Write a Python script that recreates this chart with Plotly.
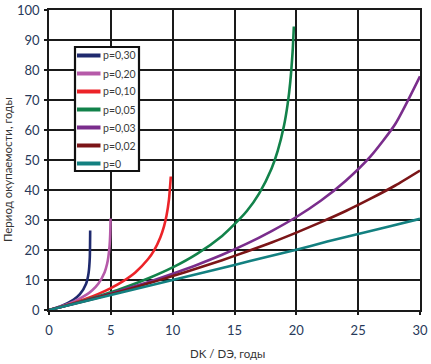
import plotly.graph_objects as go

# Values
x_p030 = [0, 0.5, 1, 1.5, 2, 2.5, 3, 3.2, 3.3, 3.33]
y_p030 = [0, 0.62, 1.36, 2.28, 3.49, 5.28, 8.78, 12.3, 17.6, 26.5]

x_p020 = [0, 1, 2, 3, 3.5, 4, 4.5, 4.7, 4.8, 4.9, 4.95, 4.98]
y_p020 = [0, 1.22, 2.80, 5.03, 6.60, 8.83, 12.6, 15.4, 17.7, 21.5, 25.3, 30.5]

x_p010 = [0, 1, 2, 3, 4, 5, 6, 7, 8, 8.5, 9, 9.3, 9.5, 9.7, 9.85]
y_p010 = [0, 1.11, 2.34, 3.74, 5.36, 7.27, 9.61, 12.6, 16.9, 19.9, 24.2, 27.9, 31.4, 36.8, 44.5]

x_p005 = [0, 2, 4, 6, 8, 10, 12, 14, 15, 16, 17, 18, 18.5, 19, 19.3, 19.5, 19.7, 19.8]
y_p005 = [0, 2.16, 4.57, 7.31, 10.5, 14.2, 18.8, 24.7, 28.6, 33.0, 38.9, 47.2, 53.1, 61.4, 68.7, 75.6, 86.1, 94.5]

x_p003 = [0, 2, 4, 6, 8, 10, 12, 14, 16, 18, 20, 22, 24, 26, 28, 30]
y_p003 = [0, 2.09, 4.32, 6.71, 9.28, 12.1, 15.1, 18.4, 22.1, 26.3, 31.0, 36.5, 43.1, 51.2, 62.0, 77.9]

x_p002 = [0, 2, 4, 6, 8, 10, 12, 14, 16, 18, 20, 22, 24, 26, 28, 30]
y_p002 = [0, 2.06, 4.21, 6.45, 8.80, 11.3, 13.9, 16.6, 19.5, 22.5, 25.8, 29.3, 33.0, 37.1, 41.5, 46.5]

x_p0 = [0, 2.5, 5, 7.5, 10, 12.5, 15, 17.5, 20, 22.5, 25, 27.5, 30]
y_p0 = [0, 2.5, 5, 7.5, 10, 12.5, 15, 17.6, 20.1, 22.8, 25.3, 27.8, 30.4]

series = [
    ("p=0,30", x_p030, y_p030, "#1f2a6e"),
    ("p=0,20", x_p020, y_p020, "#b65aa9"),
    ("p=0,10", x_p010, y_p010, "#ec2328"),
    ("p=0,05", x_p005, y_p005, "#12824a"),
    ("p=0,03", x_p003, y_p003, "#7a2d8c"),
    ("p=0,02", x_p002, y_p002, "#7b1517"),
    ("p=0", x_p0, y_p0, "#138080"),
]

x_ticks = [0, 5, 10, 15, 20, 25, 30]
y_ticks = [0, 10, 20, 30, 40, 50, 60, 70, 80, 90, 100]
x_title = "DK / DЭ, годы"
y_title = "Период окупаемости, годы"

# plot area in pixels (for layout helpers)
L, R, T, B, W, H = 49, 11, 10, 54, 431, 364
PW, PH = W - L - R, H - T - B


def px(xpix):
    return (xpix - L) / PW


def py(ypix):
    return (H - B - ypix) / PH


fig = go.Figure()
for name, xs, ys, col in series:
    fig.add_trace(go.Scatter(x=xs, y=ys, name=name, mode="lines", showlegend=False,
                             line=dict(color=col, width=2.6, shape="spline", smoothing=0.6)))

# custom legend box
shapes = [dict(type="rect", xref="paper", yref="paper", x0=px(75), x1=px(139), y0=py(171), y1=py(47),
               fillcolor="#ffffff", opacity=1, line=dict(color="#111111", width=2.2), layer="above")]
annotations = []
for i, (name, xs, ys, col) in enumerate(series):
    yy = 55.5 + i * 18
    shapes.append(dict(type="line", xref="paper", yref="paper", x0=px(77), x1=px(100.5),
                       y0=py(yy), y1=py(yy), line=dict(color=col, width=4), layer="above"))
    annotations.append(dict(text=name, xref="paper", yref="paper", x=px(101), y=py(yy),
                            xanchor="left", yanchor="middle", showarrow=False,
                            font=dict(size=10.5, color="#3b3b3b")))

tickfont = dict(family="Lato, sans-serif", size=13, color="#27395a")
axis_common = dict(showgrid=True, gridcolor="#1a1a1a", gridwidth=1.5,
                   showline=True, linecolor="#1a1a1a", linewidth=1.5, mirror=True,
                   zeroline=False, tickfont=tickfont, automargin=False,
                   ticks="outside", ticklen=3, tickcolor="#1a1a1a", tickwidth=1.5)

annotations += [
    dict(text=x_title, xref="paper", yref="paper", x=px(227), y=py(353),
         xanchor="center", yanchor="middle", showarrow=False,
         font=dict(size=11.5, color="#333333")),
    dict(text=y_title, xref="paper", yref="paper", x=px(7), y=py(170),
         xanchor="center", yanchor="middle", showarrow=False, textangle=-90,
         font=dict(size=11.5, color="#333333")),
]

fig.update_layout(
    width=W, height=H,
    margin=dict(l=L, r=R, t=T, b=B, autoexpand=False),
    paper_bgcolor="white", plot_bgcolor="white",
    font=dict(family="Lato, sans-serif", color="#333333"),
    showlegend=False,
    xaxis=dict(range=[0, 30], tickvals=x_ticks, ticklabelstandoff=5, **axis_common),
    yaxis=dict(range=[0, 100], tickvals=y_ticks, ticklabelstandoff=2, **axis_common),
    shapes=shapes,
    annotations=annotations,
)

fig.write_html("out.html", config={"displayModeBar": False},
               post_script="document.body.style.margin='0';")
